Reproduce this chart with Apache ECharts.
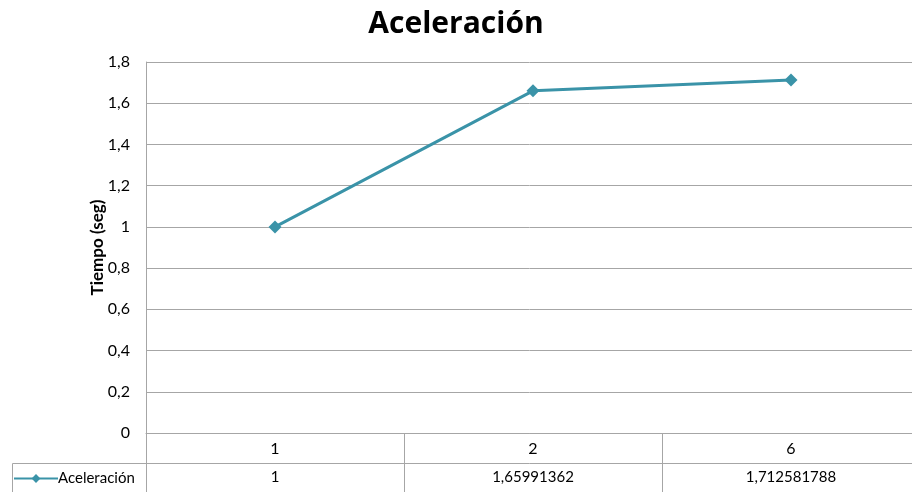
<!DOCTYPE html>
<html>
<head>
<meta charset="utf-8">
<script src="https://cdn.jsdelivr.net/npm/echarts@6/dist/echarts.min.js"></script>
<style>
  html, body { margin: 0; padding: 0; background: #fff; }
  #chart { width: 912px; height: 492px; }
</style>
</head>
<body>
<div id="chart"></div>
<script>
// Chart data
const categories = ['1', '2', '6'];
const seriesName = 'Aceleración';
const values = [1, 1.65991362, 1.712581788];
const yTicks = { min: 0, max: 1.8, interval: 0.2 };

const FONT = 'Lato, "Open Sans", sans-serif';
const GRID_COLOR = '#a6a6a6';
const LINE_COLOR = '#3a93a8';

// Spanish decimal comma
const fmt = v => String(v).replace('.', ',');
const tableRow = values.map(fmt);

const chart = echarts.init(document.getElementById('chart'), null, { renderer: 'canvas' });

chart.setOption({
  backgroundColor: '#fff',
  animation: false,
  title: {
    text: 'Aceleración',
    left: 'center',
    top: 4,
    textStyle: { fontFamily: '"Open Sans", sans-serif', fontWeight: 'bold', fontSize: 30, color: '#000' }
  },
  legend: {
    data: [seriesName],
    left: 13,
    top: 471,
    itemWidth: 44,
    itemHeight: 11,
    itemGap: 0,
    padding: 0,
    textStyle: { fontFamily: FONT, fontSize: 15, color: '#000', padding: [0, 0, 0, -5] }
  },
  // plot area runs slightly past the right edge of the canvas
  grid: { left: 146, width: 774, top: 62, bottom: 59, containLabel: false, outerBoundsMode: 'none' },
  xAxis: [
    {
      type: 'category',
      data: categories,
      position: 'bottom',
      boundaryGap: true,
      axisLine: { show: true, lineStyle: { color: GRID_COLOR, width: 1 } },
      axisTick: { show: true, length: 60, lineStyle: { color: GRID_COLOR, width: 1 } },
      axisLabel: { margin: 8, fontFamily: FONT, fontSize: 16, color: '#000' },
      splitLine: { show: false }
    },
    {
      type: 'category',
      data: tableRow,
      position: 'bottom',
      offset: 30,
      boundaryGap: true,
      axisLine: { show: true, lineStyle: { color: GRID_COLOR, width: 1 } },
      axisTick: { show: false },
      axisLabel: { margin: 7, fontFamily: FONT, fontSize: 15, color: '#000' },
      splitLine: { show: false }
    }
  ],
  yAxis: {
    type: 'value',
    min: yTicks.min,
    max: yTicks.max,
    interval: yTicks.interval,
    name: 'Tiempo (seg)',
    nameLocation: 'middle',
    nameGap: 40,
    nameMoveOverlap: false,
    nameTextStyle: { fontFamily: FONT, fontWeight: 'bold', fontSize: 17, color: '#000' },
    axisLine: { show: true, lineStyle: { color: GRID_COLOR, width: 1 } },
    axisTick: { show: false },
    axisLabel: {
      margin: 16,
      fontFamily: FONT,
      fontSize: 16,
      color: '#000',
      formatter: v => fmt(Math.round(v * 10) / 10)
    },
    splitLine: { show: true, lineStyle: { color: GRID_COLOR, width: 1 } }
  },
  series: [
    {
      name: seriesName,
      type: 'line',
      xAxisIndex: 0,
      data: values,
      symbol: 'diamond',
      symbolSize: 13,
      lineStyle: { color: LINE_COLOR, width: 3 },
      itemStyle: { color: LINE_COLOR },
      z: 5
    }
  ],
  // Border of the legend cell in the data table
  graphic: [
    {
      type: 'polyline',
      silent: true,
      shape: { points: [[146, 463.5], [12.5, 463.5], [12.5, 492]] },
      style: { stroke: GRID_COLOR, lineWidth: 1, fill: null }
    }
  ]
});
</script>
</body>
</html>
